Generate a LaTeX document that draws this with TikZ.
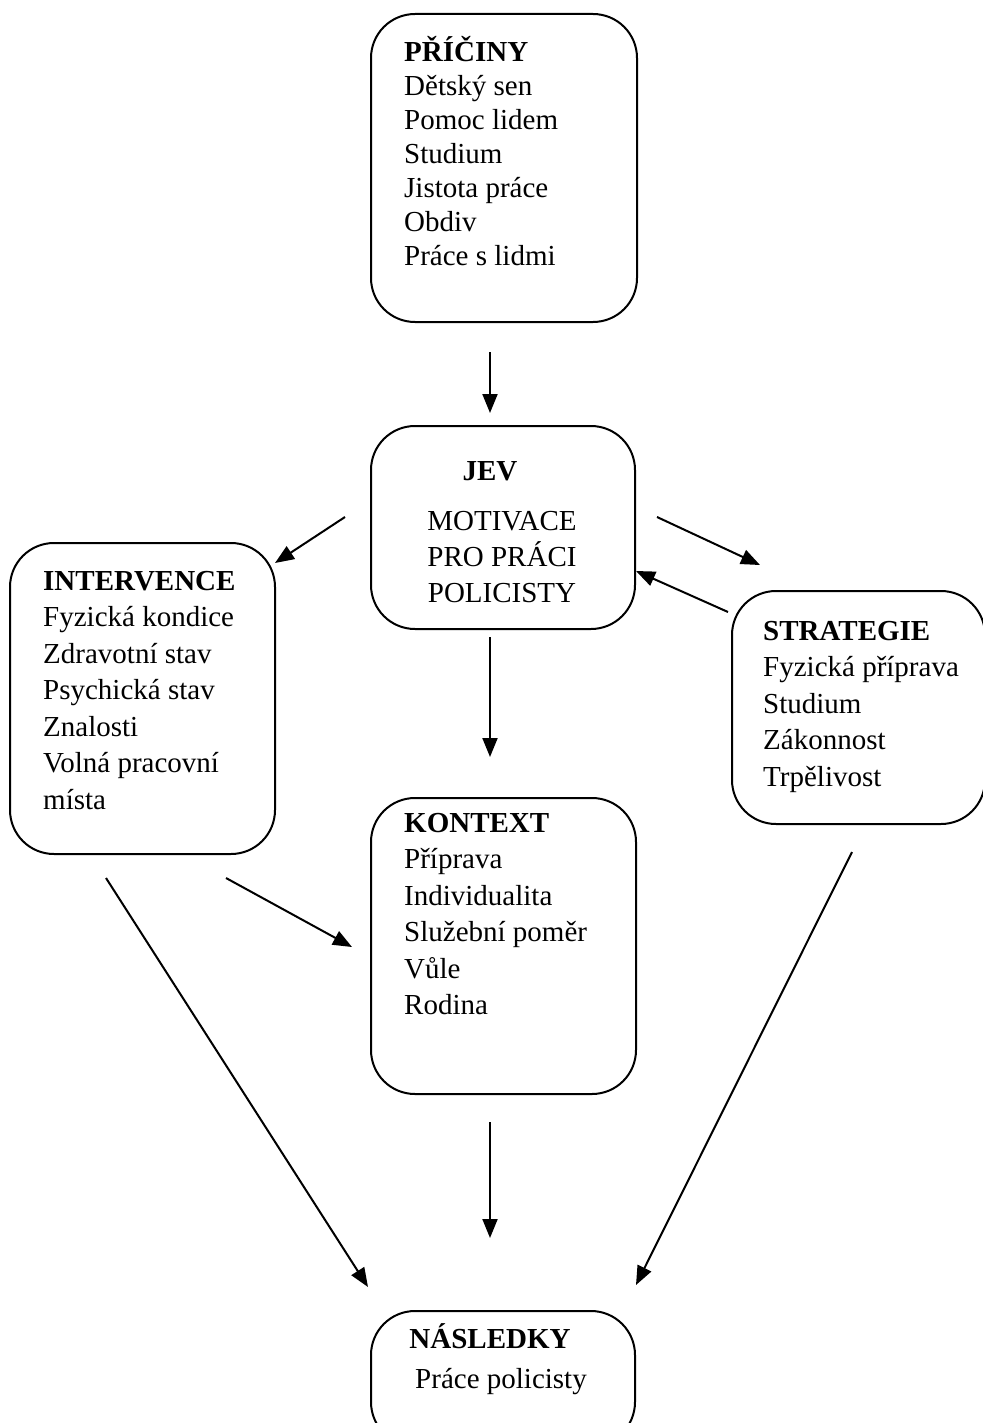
\documentclass[tikz,border=0pt]{standalone}
\usepackage{fontspec}
\setmainfont{Liberation Serif}
\usetikzlibrary{arrows.meta}

% body text of the boxes
\newcommand\boxfont{\fontsize{29}{34}\selectfont}

\begin{document}
\begin{tikzpicture}[x=1pt,y=-1pt,
  box/.style={draw, line width=2pt, rounded corners=44pt, inner sep=0pt,
              anchor=north west, fill=none},
  txt/.style={font=\boxfont, inner sep=0pt, anchor=base west},
  ctxt/.style={font=\boxfont, inner sep=0pt, anchor=base},
  arr/.style={line width=2pt, -{Triangle[length=19pt,width=15pt]}}
]
\useasboundingbox (0,0) rectangle (982,1423);

% boxes
\node[box, minimum width=266pt, minimum height=308pt] (pri) at (370,13) {};
\node[box, minimum width=264pt, minimum height=203pt] (jev) at (370,425) {};
\node[box, minimum width=265pt, minimum height=311pt] (int) at (9,542) {};
\node[box, minimum width=253pt, minimum height=233pt] (str) at (731,590) {};
\node[box, minimum width=265pt, minimum height=296pt] (kon) at (370,797) {};
\node[box, minimum width=264pt, minimum height=135pt] (nas) at (370,1310) {};

% box texts
\node[txt] (pri-t) at (404,62) {\parbox[t]{230pt}{\raggedright\baselineskip=34pt
  \textbf{PŘÍČINY}\\Dětský sen\\Pomoc lidem\\Studium\\Jistota práce\\Obdiv\\Práce s lidmi}};

\node[ctxt] (jev-h) at (490,480) {\textbf{JEV}};
\node[ctxt] (jev-t) at (502,530) {\parbox[t]{240pt}{\centering\baselineskip=36pt
  MOTIVACE\\PRO PRÁCI\\POLICISTY}};

\node[txt] (int-t) at (43,590) {\parbox[t]{230pt}{\raggedright\baselineskip=36.5pt
  \textbf{INTERVENCE}\\Fyzická kondice\\Zdravotní stav\\Psychická stav\\Znalosti\\Volná pracovní\\místa}};

\node[txt] (str-t) at (763,640) {\parbox[t]{220pt}{\raggedright\baselineskip=36.5pt
  \textbf{STRATEGIE}\\Fyzická příprava\\Studium\\Zákonnost\\Trpělivost}};

\node[txt] (kon-t) at (404,832) {\parbox[t]{230pt}{\raggedright\baselineskip=36.5pt
  \textbf{KONTEXT}\\Příprava\\Individualita\\Služební poměr\\Vůle\\Rodina}};

\node[ctxt] (nas-h) at (490,1348) {\textbf{NÁSLEDKY}};
\node[ctxt] (nas-t) at (501,1388) {Práce policisty};

% connector end points
\coordinate (a1) at (490,352);  \coordinate (b1) at (490,413);
\coordinate (a2) at (345,517);  \coordinate (b2) at (275,563);
\coordinate (a3) at (657,517);  \coordinate (b3) at (760,565);
\coordinate (a4) at (728,612);  \coordinate (b4) at (636,571);
\coordinate (a5) at (490,637);  \coordinate (b5) at (490,757);
\coordinate (a6) at (226,878);  \coordinate (b6) at (352,947);
\coordinate (a7) at (106,878);  \coordinate (b7) at (368,1287);
\coordinate (a8) at (852,852);  \coordinate (b8) at (636,1285);
\coordinate (a9) at (490,1122); \coordinate (b9) at (490,1238);

% connectors
\draw[arr] (a1) -- (b1);
\draw[arr] (a2) -- (b2);
\draw[arr] (a3) -- (b3);
\draw[arr] (a4) -- (b4);
\draw[arr] (a5) -- (b5);
\draw[arr] (a6) -- (b6);
\draw[arr] (a7) -- (b7);
\draw[arr] (a8) -- (b8);
\draw[arr] (a9) -- (b9);
\end{tikzpicture}
\end{document}
